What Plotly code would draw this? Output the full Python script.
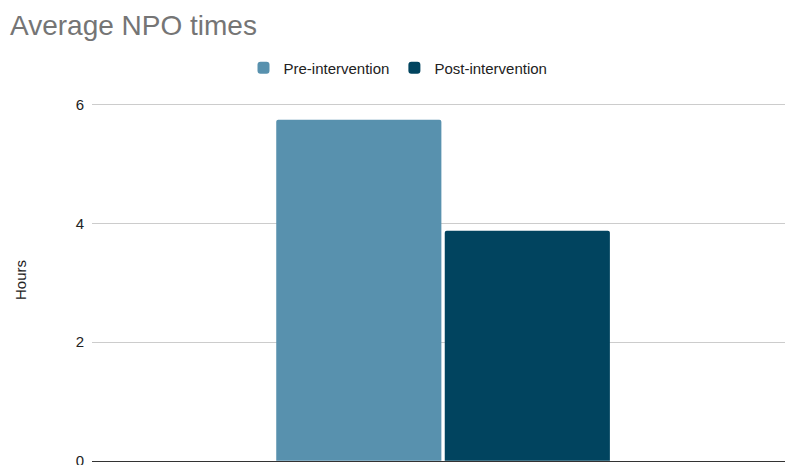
import plotly.graph_objects as go

categories = ["Average NPO times"]
series_names = ["Pre-intervention", "Post-intervention"]
pre_values = [5.75]
post_values = [3.88]
colors = ["#5891ae", "#01445f"]
y_ticks = [0, 2, 4, 6]

FONT = "Arial, Liberation Sans, sans-serif"

fig = go.Figure()
for name, vals, col in zip(series_names, [pre_values, post_values], colors):
    fig.add_trace(go.Bar(x=categories, y=vals, name=name, marker=dict(color=col, line=dict(width=0))))

fig.update_layout(
    width=785, height=465,
    margin=dict(l=92, r=0, t=99, b=4, autoexpand=False),
    paper_bgcolor="white", plot_bgcolor="white",
    font=dict(family=FONT, size=15, color="#222222"),
    title=dict(text="Average NPO times", x=10/785, xanchor="left", xref="container",
               y=1 - 25/465, yanchor="middle", yref="container",
               font=dict(size=28, color="#757575", family=FONT)),
    barmode="group", bargap=0.52, bargroupgap=0.02, barcornerradius=2,
    legend=dict(orientation="h", x=398/785, xref="container", xanchor="center",
                y=1 - 68/465, yref="container", yanchor="middle",
                font=dict(size=15, color="#222222", family=FONT), itemsizing="constant"),
    showlegend=True,
)
fig.update_xaxes(range=[-0.5, 0.487], showticklabels=False, showgrid=False, automargin=False,
                 showline=True, linecolor="#333333", linewidth=1, zeroline=False)
fig.update_yaxes(range=[-0.003, 6.1], tickvals=y_ticks, showgrid=True, gridcolor="#cccccc",
                 zeroline=False, ticks="", ticklabelstandoff=7, ticklabeloverflow="allow",
                 automargin=False,
                 tickfont=dict(size=15, color="#222222", family=FONT),
                 title=dict(text="Hours", font=dict(size=15, color="#222222", family=FONT), standoff=45))

fig.write_html("out.html")
